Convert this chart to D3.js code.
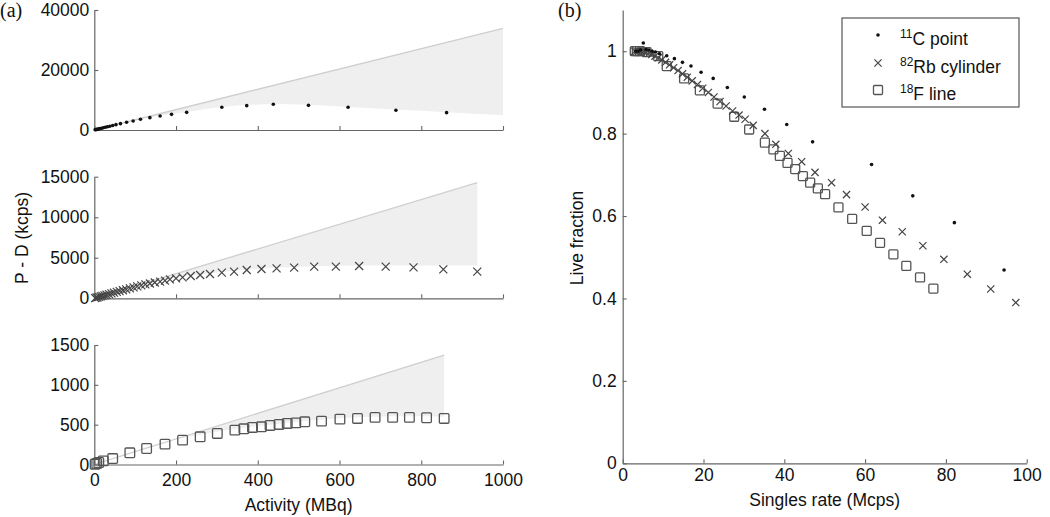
<!DOCTYPE html>
<html><head><meta charset="utf-8">
<script src="https://cdn.jsdelivr.net/npm/d3@7"></script>
<style>
body{margin:0;background:#fff}
text{font-family:"Liberation Sans",Arial,Helvetica,sans-serif;fill:#111}
</style>
</head><body>
<svg id="c" width="1050" height="517"></svg>
<script>
// ---------- data: panel (a) ----------
const activityTicks = [0,200,400,600,800,1000];
const c11Ticks = [0,20000,40000];
const rbTicks = [0,5000,10000,15000];
const fTicks = [0,500,1000,1500];

const c11Activity = [2,4,6,8,11,14,18,22,27,32,38,45,53,64,79,95,113,136,161,189,226,312,373,438,524,621,738,862];
const c11PD = [68,135,200,270,370,470,600,740,905,1070,1270,1510,1780,2110,2560,3000,3560,4110,4670,5220,5890,7560,8110,8560,8220,7560,6560,5780];
const c11TrueX = [0,1000];
const c11TrueY = [0,33900];
const c11BandX = [0,100,160,226,312,373,438,524,621,738,862,1000];
const c11BandY = [0,3300,4750,6000,7650,8300,8700,8400,7700,6800,5950,5000];

const rbActivity = [2,5,8,12,16,20,25,30,36,42,48,55,62,70,78,87,96,105,115,125,136,148,161,173,185,200,216,236,259,283,312,342,373,409,446,489,538,591,648,713,781,854,937];
const rbPD = [30,75,120,178,236,294,366,438,524,609,694,792,889,999,1107,1228,1347,1465,1594,1721,1830,1950,2055,2178,2343,2466,2589,2754,2877,3000,3165,3288,3494,3617,3699,3781,3905,3905,3987,3905,3822,3576,3288];
const rbTrueX = [0,937];
const rbTrueY = [0,14260];
const rbBandX = [0,161,236,312,409,489,591,713,854,937];
const rbBandY = [0,2100,2800,3250,3650,3850,4000,4050,4050,4050];

const fActivity = [2,6,11,22,45,87,128,173,216,259,301,344,366,387,409,430,452,472,493,515,556,601,644,687,730,771,813,856];
const fPD = [4,13,25,46,75,147,201,256,306,348,390,432,448,465,473,490,503,515,523,536,545,570,578,591,591,591,587,578];
const fTrueX = [0,856];
const fTrueY = [0,1374];
const fBandX = [0,220,259,301,344,430,515,601,687,771,856];
const fBandY = [0,340,375,410,445,500,545,580,600,605,600];

// ---------- data: panel (b) ----------
const singlesTicks = [0,20,40,60,80,100];
const liveTicks = [0,0.2,0.4,0.6,0.8,1];

const c11Singles = [3.2,3.8,4.4,5.1,5.8,6.5,7.3,8.1,9.1,10.9,12.8,14.8,16.9,19.4,22.4,25.9,30.1,35.1,40.6,47.0,61.6,71.8,82.1,94.4];
const c11Live = [1.0,1.0,1.003,1.02,1.004,1.003,1.0,0.998,0.994,0.989,0.982,0.973,0.964,0.949,0.934,0.912,0.889,0.859,0.822,0.780,0.725,0.649,0.584,0.469];

const rbSingles = [3.0,3.5,4.0,4.6,5.2,5.8,6.5,7.2,8.0,8.8,9.7,10.6,11.6,12.6,13.7,14.8,16.0,17.2,18.5,19.8,21.2,22.6,24.1,25.6,27.2,28.8,30.3,32.3,35.2,37.9,41.0,44.3,47.6,51.7,55.4,60.0,64.3,69.2,74.3,79.5,85.3,91.1,97.3];
const rbLive = [1.0,1.0,1.0,1.0,0.999,0.997,0.995,0.992,0.988,0.984,0.979,0.973,0.967,0.960,0.953,0.945,0.937,0.928,0.919,0.910,0.900,0.889,0.878,0.867,0.855,0.845,0.835,0.820,0.800,0.774,0.752,0.732,0.706,0.681,0.652,0.622,0.590,0.562,0.528,0.495,0.459,0.423,0.390];

const fSingles = [3.0,3.5,4.3,5.9,8.8,10.9,15.2,19.1,23.5,27.6,31.3,35.2,37.3,38.9,40.8,42.7,44.6,46.4,48.3,50.1,53.4,56.8,60.4,63.7,67.0,70.2,73.6,76.9];
const fLive = [1.0,1.0,1.0,0.998,0.988,0.964,0.934,0.905,0.873,0.841,0.810,0.778,0.762,0.746,0.729,0.714,0.697,0.681,0.667,0.653,0.621,0.593,0.564,0.535,0.507,0.479,0.451,0.424];

const legendLabels = [["11","C point"],["82","Rb cylinder"],["18","F line"]];

// ---------- drawing ----------
const svg = d3.select("#c");
const AXC = "#666";
const FS = 17.5;

function styleAxis(g){
  g.select(".domain").attr("stroke",AXC).attr("stroke-width",1.2);
  g.selectAll(".tick line").attr("stroke",AXC).attr("stroke-width",1.1);
  g.selectAll(".tick text").attr("fill","#111").style("font-size",FS+"px")
   .style("font-family",'"Liberation Sans",Arial,sans-serif');
}

const xA = d3.scaleLinear().domain([0,1000]).range([94.3,503]);

const markers = {
  dot: (g,pts)=> g.selectAll("circle").data(pts).join("circle")
      .attr("cx",d=>d[0]).attr("cy",d=>d[1]).attr("r",1.8).attr("fill","#111"),
  cross: (g,pts,h)=> g.selectAll("path").data(pts).join("path")
      .attr("d",d=>`M${d[0]-h},${d[1]-h}L${d[0]+h},${d[1]+h}M${d[0]-h},${d[1]+h}L${d[0]+h},${d[1]-h}`)
      .attr("stroke","#444").attr("stroke-width",1.2).attr("fill","none"),
  square: (g,pts,h)=> g.selectAll("rect").data(pts).join("rect")
      .attr("x",d=>d[0]-h).attr("y",d=>d[1]-h).attr("width",2*h).attr("height",2*h).attr("rx",1)
      .attr("stroke","#555").attr("stroke-width",1.3).attr("fill","none")
};

function panelA(cfg){
  const y = d3.scaleLinear().domain(cfg.domain).range(cfg.range);
  const g = svg.append("g");
  // shaded band between true line and measured curve
  const trueLine = d3.scaleLinear().domain(cfg.trueX).range(cfg.trueY);
  const band = cfg.bandX.map((x,i)=>({x, lo:cfg.bandY[i], hi:trueLine(x)}));
  g.append("path").datum(band)
    .attr("d", d3.area().x(d=>xA(d.x)).y0(d=>y(d.lo)).y1(d=>y(d.hi)).curve(d3.curveMonotoneX))
    .attr("fill","#efefef");
  g.append("path").datum(cfg.trueX.map((x,i)=>[x,cfg.trueY[i]]))
    .attr("d", d3.line().x(d=>xA(d[0])).y(d=>y(d[1])))
    .attr("stroke","#cfcfcf").attr("stroke-width",1.3).attr("fill","none");
  // axes
  const gx = g.append("g").attr("transform",`translate(0,${cfg.range[0]})`)
    .call(d3.axisBottom(xA).tickValues(activityTicks).tickSizeInner(-4).tickSizeOuter(0).tickPadding(9).tickFormat(d3.format("d")));
  styleAxis(gx);
  if(!cfg.xLabels) gx.selectAll(".tick text").remove();
  const gy = g.append("g").attr("transform",`translate(${xA(0)},0)`)
    .call(d3.axisLeft(y).tickValues(cfg.ticks).tickSizeInner(-4).tickSizeOuter(0).tickPadding(5).tickFormat(d3.format("d")));
  styleAxis(gy);
  // markers
  const pts = cfg.xs.map((x,i)=>[xA(x), y(cfg.ys[i])]);
  markers[cfg.marker](g.append("g"), pts, cfg.size);
}

panelA({domain:[0,40000], range:[130,10], ticks:c11Ticks, trueX:c11TrueX, trueY:c11TrueY,
  bandX:c11BandX, bandY:c11BandY, xs:c11Activity, ys:c11PD, marker:"dot", size:1.8, xLabels:false});
panelA({domain:[0,15000], range:[298.3,176.7], ticks:rbTicks, trueX:rbTrueX, trueY:rbTrueY,
  bandX:rbBandX, bandY:rbBandY, xs:rbActivity, ys:rbPD, marker:"cross", size:4, xLabels:false});
panelA({domain:[0,1500], range:[464.5,345], ticks:fTicks, trueX:fTrueX, trueY:fTrueY,
  bandX:fBandX, bandY:fBandY, xs:fActivity, ys:fPD, marker:"square", size:4.8, xLabels:true});

svg.append("text").attr("x",xA(500)).attr("y",511).attr("text-anchor","middle")
  .style("font-size",FS+"px").text("Activity (MBq)");
svg.append("text").attr("transform","translate(28,238) rotate(-90)").attr("text-anchor","middle")
  .style("font-size",FS+"px").text("P - D (kcps)");
svg.append("text").attr("x",0).attr("y",17).style("font-family",'"Liberation Serif","Times New Roman",serif')
  .style("font-size","20px").text("(a)");

// ---------- panel (b) ----------
const xB = d3.scaleLinear().domain([0,100]).range([622.7,1026.7]);
const yB = d3.scaleLinear().domain([0,1.1]).range([463.3,10]);
const gb = svg.append("g");
const gbx = gb.append("g").attr("transform",`translate(0,${yB(0)})`)
  .call(d3.axisBottom(xB).tickValues(singlesTicks).tickSizeInner(-4).tickSizeOuter(0).tickPadding(5));
styleAxis(gbx);
const gby = gb.append("g").attr("transform",`translate(${xB(0)},0)`)
  .call(d3.axisLeft(yB).tickValues(liveTicks).tickSizeInner(-4).tickSizeOuter(0).tickPadding(6).tickFormat(d3.format("~g")));
styleAxis(gby);

markers.square(gb.append("g"), fSingles.map((x,i)=>[xB(x),yB(fLive[i])]), 4.5);
markers.cross(gb.append("g"), rbSingles.map((x,i)=>[xB(x),yB(rbLive[i])]), 3.6);
markers.dot(gb.append("g"), c11Singles.map((x,i)=>[xB(x),yB(c11Live[i])]));

svg.append("text").attr("x",xB(50)).attr("y",506).attr("text-anchor","middle")
  .style("font-size",FS+"px").text("Singles rate (Mcps)");
svg.append("text").attr("transform","translate(583,238) rotate(-90)").attr("text-anchor","middle")
  .style("font-size",FS+"px").text("Live fraction");
svg.append("text").attr("x",558).attr("y",17).style("font-family",'"Liberation Serif","Times New Roman",serif')
  .style("font-size","20px").text("(b)");

// legend
const lg = svg.append("g");
lg.append("rect").attr("x",842).attr("y",18).attr("width",177).attr("height",89)
  .attr("fill","#fff").attr("stroke","#555").attr("stroke-width",1.2);
const rowY = [35,63,90];
markers.dot(lg.append("g"), [[878,rowY[0]]]);
markers.cross(lg.append("g"), [[878,rowY[1]]], 3.6);
markers.square(lg.append("g"), [[878,rowY[2]]], 4.5);
legendLabels.forEach((l,i)=>{
  const t = lg.append("text").attr("x",900).attr("y",rowY[i]+10).style("font-size",FS+"px");
  t.append("tspan").attr("dy",-7).style("font-size","12px").text(l[0]);
  t.append("tspan").attr("dy",7).text(l[1]);
});
</script>
</body></html>
